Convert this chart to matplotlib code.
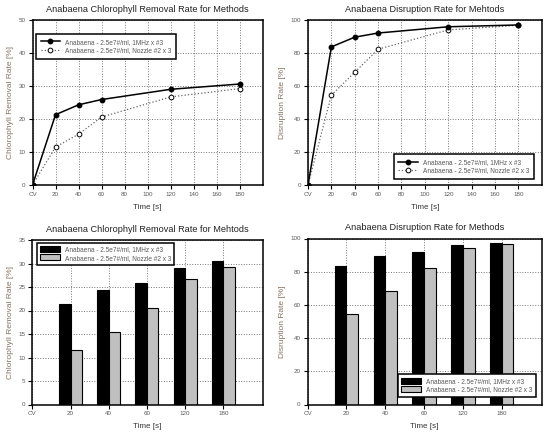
"""Anabaena chlorophyll removal / disruption rate, line + bar versions.
Saves: out.png
"""
import numpy as np
import matplotlib.pyplot as plt
from matplotlib.lines import Line2D

plt.rcParams['font.family'] = ['Liberation Sans', 'DejaVu Sans']

# data
times = [0, 20, 40, 60, 120, 180]
tick_labels = ['CV', '20', '40', '60', '120', '180']
chl_1mhz = [0, 21.3, 24.3, 25.9, 29.0, 30.6]
chl_nozzle = [0, 11.5, 15.4, 20.6, 26.7, 29.2]
dis_1mhz = [0, 83.7, 89.6, 92.1, 95.9, 97.0]
dis_nozzle = [0, 54.5, 68.3, 82.3, 94.0, 96.8]
lab_1mhz = 'Anabaena - 2.5e7#/ml, 1MHz x #3'
lab_nozzle = 'Anabaena - 2.5e7#/ml, Nozzle #2 x 3'

TICK_C = '#5a5a5a'
YLAB_C = '#86745f'
W, H = 551, 438


def box(l, t, r, b):
    return [l / W, 1 - b / H, (r - l) / W, (b - t) / H]


fig = plt.figure(figsize=(W / 100, H / 100), dpi=100)
ax_tl = fig.add_axes(box(32.5, 20, 262.7, 185))
ax_tr = fig.add_axes(box(308, 20, 541.7, 185))
ax_bl = fig.add_axes(box(32.3, 240, 262.7, 404.5))
ax_br = fig.add_axes(box(307.5, 238.5, 541.7, 404.5))


def style(ax, title, ylabel):
    for s in ax.spines.values():
        s.set_linewidth(1.1)
    ax.tick_params(direction='out', length=3, width=0.8, labelsize=4.5,
                   labelcolor=TICK_C, pad=2)
    ax.grid(True, linestyle=':', color='#777777', linewidth=0.7)
    ax.set_axisbelow(True)
    ax.set_title(title, fontsize=6.6, color='#222222', pad=6)
    ax.set_ylabel(ylabel, fontsize=6.0, color=YLAB_C, labelpad=3)
    ax.set_xlabel('Time [s]', fontsize=5.8, color='#333333', labelpad=5)


def legend_frame(leg):
    f = leg.get_frame()
    f.set_edgecolor('black')
    f.set_linewidth(1.1)
    f.set_boxstyle('square', pad=0)
    for t in leg.get_texts():
        t.set_color(TICK_C)


# line charts
for ax, s1, s2, ymax, ystep, title, ylab, loc, anchor in [
        (ax_tl, chl_1mhz, chl_nozzle, 50, 10,
         'Anabaena Chlorophyll Removal Rate for Methods',
         'Chlorophyll Removal Rate [%]', 'upper left', (0.015, 0.915)),
        (ax_tr, dis_1mhz, dis_nozzle, 100, 20,
         'Anabaena Disruption Rate for Mehtods',
         'Disruption Rate [%]', 'lower right', (0.967, 0.036))]:
    ax.plot(times, s2, linestyle=':', color='#666666', linewidth=0.9,
            marker='o', markersize=3.4, markerfacecolor='white',
            markeredgecolor='black', markeredgewidth=0.7, label=lab_nozzle, zorder=3)
    ax.plot(times, s1, linestyle='-', color='black', linewidth=1.1,
            marker='o', markersize=3.2, markerfacecolor='black',
            markeredgecolor='black', label=lab_1mhz, zorder=4)
    ax.set_xlim(0, 200)
    ax.set_ylim(0, ymax)
    xt = np.arange(0, 181, 20)
    ax.set_xticks(xt)
    ax.set_xticklabels(['CV'] + [str(v) for v in xt[1:]])
    ax.set_yticks(np.arange(0, ymax + 1, ystep))
    style(ax, title, ylab)
    handles = [
        Line2D([], [], color='black', linewidth=1.1, marker='o', markersize=3.2,
               markerfacecolor='black'),
        Line2D([], [], color='#666666', linestyle=':', linewidth=0.9, marker='o',
               markersize=3.4, markerfacecolor='white', markeredgecolor='black',
               markeredgewidth=0.7)]
    leg = ax.legend(handles, [lab_1mhz, lab_nozzle], loc=loc, bbox_to_anchor=anchor,
                    fontsize=4.7, handlelength=3.0, borderpad=0.7,
                    labelspacing=0.25, handletextpad=0.8, framealpha=1,
                    fancybox=False, borderaxespad=0)
    legend_frame(leg)

# bar charts
pos = np.arange(1, len(times))
bw = 0.3
for ax, s1, s2, ymax, ystep, title, ylab, loc, anchor in [
        (ax_bl, chl_1mhz, chl_nozzle, 35, 5,
         'Anabaena Chlorophyll Removal Rate for Mehtods',
         'Chlorophyll Removal Rate [%]', 'upper left', (0.019, 0.984)),
        (ax_br, dis_1mhz, dis_nozzle, 100, 20,
         'Anabaena Disruption Rate for Methods',
         'Disruption Rate [%]', 'lower right', (0.974, 0.047))]:
    ax.bar(pos - bw / 2, s1[1:], width=bw, color='black', edgecolor='black',
           linewidth=0.8, label=lab_1mhz)
    ax.bar(pos + bw / 2, s2[1:], width=bw, color='#c0c0c0', edgecolor='black',
           linewidth=0.8, label=lab_nozzle)
    ax.set_xlim(0, 6.03)
    ax.set_ylim(0, ymax)
    ax.set_xticks(np.arange(len(times)))
    ax.set_xticklabels(tick_labels)
    ax.set_yticks(np.arange(0, ymax + 1, ystep))
    style(ax, title, ylab)
    leg = ax.legend(loc=loc, bbox_to_anchor=anchor, fontsize=4.7,
                    handlelength=3.0, handleheight=1.1, borderpad=0.5,
                    labelspacing=0.15, handletextpad=0.8, framealpha=1,
                    fancybox=False, borderaxespad=0)
    legend_frame(leg)

fig.savefig('out.png', dpi=100)
plt.close(fig)
